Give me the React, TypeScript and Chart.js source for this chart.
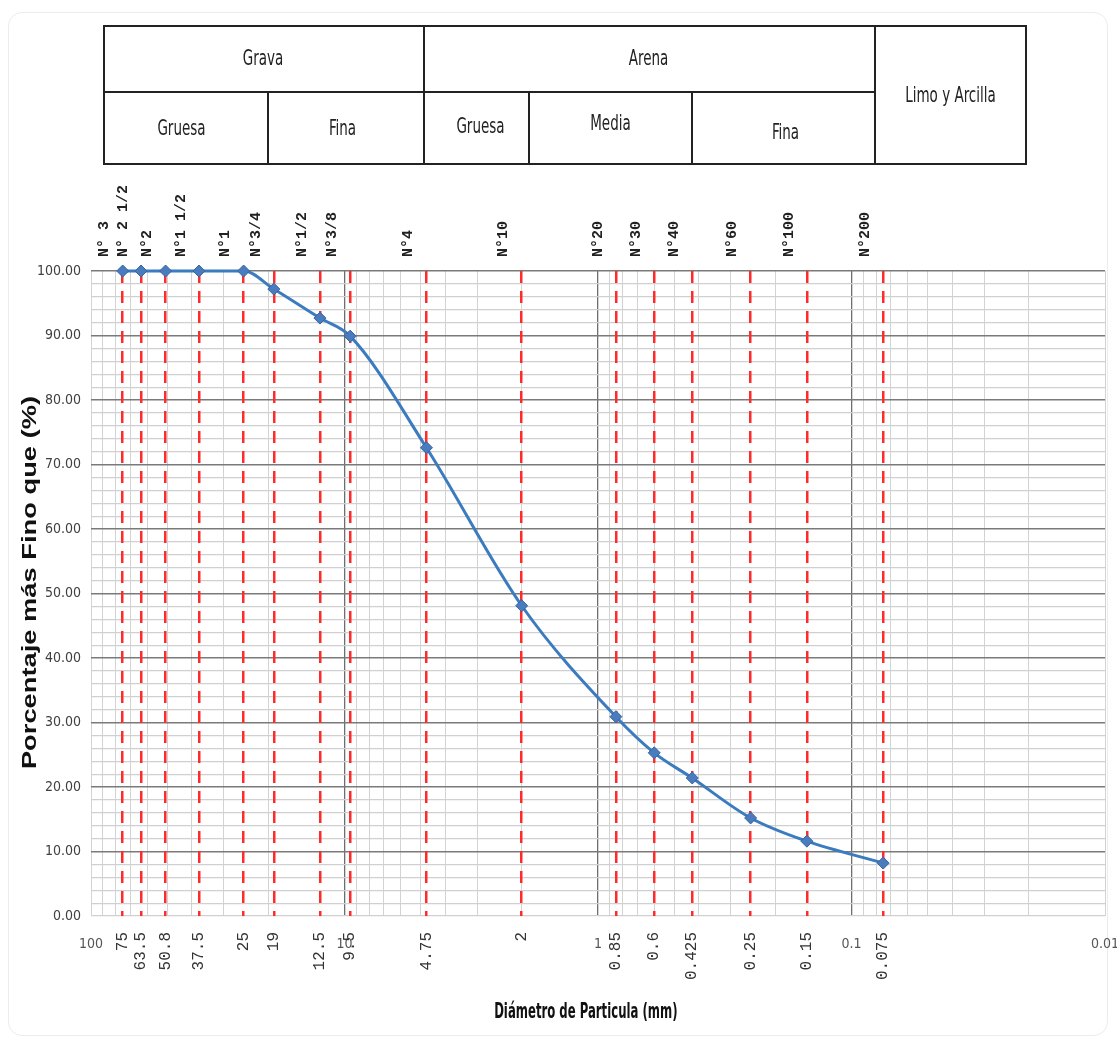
import React, { useEffect, useRef } from "react";
import { Chart, registerables } from "chart.js";

Chart.register(...registerables);

// ---- data ----
const sieveSizes = [75, 63.5, 50.8, 37.5, 25, 19, 12.5, 9.5, 4.75, 2, 0.85, 0.6, 0.425, 0.25, 0.15, 0.075];
const sieveNames = ["N° 3", "N° 2 1/2", "N°2", "N°1 1/2", "N°1", "N°3/4", "N°1/2", "N°3/8", "N°4", "N°10", "N°20", "N°30", "N°40", "N°60", "N°100", "N°200"];
const sizeLabels = ["75", "63.5", "50.8", "37.5", "25", "19", "12.5", "9.5", "4.75", "2", "0.85", "0.6", "0.425", "0.25", "0.15", "0.075"];
const percentPassing = [100, 100, 100, 100, 100, 97.2, 92.7, 89.9, 72.6, 48.1, 30.9, 25.3, 21.4, 15.2, 11.6, 8.2];
const decadeValues = [100, 10, 1, 0.1, 0.01];
const decadeLabels = ["100", "10", "1", "0.1", "0.01"];
const minorFactors = [2, 3, 4, 5, 6, 7, 8, 9];
const xTitle = "Diámetro de Particula (mm)";
const yTitle = "Porcentaje más Fino que (%)";

const NARROW = "'Liberation Sans Narrow', 'DejaVu Sans Condensed', sans-serif";
const MONO = "'Liberation Mono', 'DejaVu Sans Mono', monospace";
const SANS = "'Liberation Sans', Arial, sans-serif";

// gridline values of the log axis (decades + 2..9 multiples)
const xGridValues: number[] = [];
decadeValues.forEach((d) => {
  xGridValues.push(d);
  if (d < 100) minorFactors.forEach((k) => xGridValues.push(parseFloat((k * d).toPrecision(6))));
});

const near = (a: number, b: number) => Math.abs(a - b) / b < 1e-6;
const isInnerDecade = (v: number) => [10, 1, 0.1].some((d) => near(v, d));

const tableLines = [
  // [left, top, width, height]
  [103, 25, 924, 2],
  [103, 163, 924, 2],
  [103, 91, 772, 2],
  [103, 25, 2, 140],
  [1025, 25, 2, 140],
  [423, 25, 2, 140],
  [874, 25, 2, 140],
  [267, 91, 2, 74],
  [528, 91, 2, 74],
  [691, 91, 2, 74],
];

const tableCells = [
  { text: "Grava", l: 103, t: 25, w: 320, h: 66 },
  { text: "Arena", l: 423, t: 25, w: 451, h: 66 },
  { text: "Limo y Arcilla", l: 874, t: 25, w: 153, h: 140 },
  { text: "Gruesa", l: 96, t: 91, w: 171, h: 74 },
  { text: "Fina", l: 262, t: 91, w: 161, h: 74 },
  { text: "Gruesa", l: 433, t: 91, w: 95, h: 70 },
  { text: "Media", l: 530, t: 91, w: 161, h: 64 },
  { text: "Fina", l: 697, t: 95, w: 177, h: 74 },
];

export default function App() {
  const ref = useRef<HTMLCanvasElement>(null);

  useEffect(() => {
    const canvas = ref.current;
    if (!canvas) return;

    const labelPlugin = {
      id: "extraLabels",
      afterDraw(chart: any) {
        const xs = chart.scales.x;
        const ca = chart.chartArea;
        const ctx = chart.ctx;
        ctx.save();
        // sieve opening sizes under the axis
        ctx.font = `16px ${MONO}`;
        ctx.fillStyle = "#333";
        ctx.textAlign = "right";
        ctx.textBaseline = "middle";
        sieveSizes.forEach((v, i) => {
          const px = xs.getPixelForValue(v);
          ctx.save();
          ctx.translate(px, ca.bottom + 16);
          ctx.rotate(-Math.PI / 2);
          ctx.fillText(sizeLabels[i], 0, 0);
          ctx.restore();
        });
        // axis titles
        ctx.fillStyle = "#111";
        ctx.textAlign = "center";
        ctx.save();
        ctx.translate(ca.left + (ca.right - ca.left) * 0.488, ca.bottom + 96);
        ctx.scale(1, 1.65);
        ctx.font = `bold 13px ${NARROW}`;
        ctx.fillText(xTitle, 0, 0);
        ctx.restore();
        ctx.save();
        ctx.translate(30, (ca.top + ca.bottom) / 2 - 11);
        ctx.rotate(-Math.PI / 2);
        ctx.scale(1.3, 1);
        ctx.font = `bold 21px ${SANS}`;
        ctx.fillText(yTitle, 0, 0);
        ctx.restore();
        ctx.restore();
      },
    };

    const chart = new Chart(canvas, {
      type: "line",
      data: {
        datasets: [
          {
            data: sieveSizes.map((x, i) => ({ x, y: percentPassing[i] })),
            borderColor: "#3b7bbf",
            backgroundColor: "#4576b5",
            borderWidth: 3,
            pointStyle: "rectRot",
            pointRadius: 6,
            pointBackgroundColor: "#4a7bbd",
            pointBorderColor: "#3465a4",
            pointBorderWidth: 1,
            cubicInterpolationMode: "monotone",
            clip: false,
            xAxisID: "x",
            yAxisID: "y",
          } as any,
        ],
      },
      options: {
        animation: false,
        responsive: false,
        maintainAspectRatio: false,
        layout: { padding: { left: 0, right: 12, top: 171, bottom: 0 } },
        plugins: { legend: { display: false }, tooltip: { enabled: false } },
        scales: {
          x: {
            type: "logarithmic",
            position: "bottom",
            reverse: true,
            min: 0.01,
            max: 100,
            afterBuildTicks: (s: any) => {
              s.ticks = xGridValues.map((v) => ({ value: v }));
            },
            afterFit: (s: any) => {
              s.height = 126;
            },
            ticks: {
              autoSkip: false,
              maxRotation: 0,
              minRotation: 0,
              padding: 20,
              color: "#555",
              font: { family: NARROW, size: 14 },
              callback: (v: any) => {
                const i = decadeValues.findIndex((d) => near(Number(v), d));
                return i >= 0 ? decadeLabels[i] : "";
              },
            },
            grid: {
              drawTicks: false,
              z: -1,
              color: (c: any) => (isInnerDecade(c.tick?.value) ? "#6e6e6e" : "#d3d3d3"),
              lineWidth: (c: any) => (isInnerDecade(c.tick?.value) ? 1.3 : 1),
            },
            border: { display: false },
          } as any,
          x2: {
            type: "logarithmic",
            axis: "x",
            position: "top",
            reverse: true,
            min: 0.01,
            max: 100,
            afterBuildTicks: (s: any) => {
              s.ticks = sieveSizes.map((v) => ({ value: v }));
            },
            afterFit: (s: any) => {
              s.height = 100;
            },
            ticks: {
              autoSkip: false,
              maxRotation: 90,
              minRotation: 90,
              padding: 14,
              color: "#222",
              font: { family: MONO, size: 15, weight: "bold" },
              callback: (v: any) => {
                const i = sieveSizes.findIndex((d) => near(Number(v), d));
                return i >= 0 ? sieveNames[i] : "";
              },
            },
            grid: {
              drawTicks: false,
              z: 0,
              color: "#ff2a2a",
              lineWidth: 2.5,
            },
            border: { display: false, dash: [12, 8] },
          } as any,
          y: {
            type: "linear",
            min: 0,
            max: 100,
            afterFit: (s: any) => {
              s.width = 91;
            },
            ticks: {
              stepSize: 2,
              autoSkip: false,
              padding: 10,
              color: "#404040",
              font: { family: NARROW, size: 14 },
              callback: (v: any) => {
                const n = Math.round(Number(v));
                return n % 10 === 0 ? n.toFixed(2) : "";
              },
            },
            grid: {
              drawTicks: false,
              z: -1,
              color: (c: any) => {
                const n = Math.round(c.tick?.value ?? 0);
                return n % 10 === 0 && n !== 0 ? "#7a7a7a" : "#d0d0d0";
              },
              lineWidth: (c: any) => {
                const n = Math.round(c.tick?.value ?? 0);
                return n % 10 === 0 && n !== 0 ? 1.5 : 1.2;
              },
            },
            border: { display: false },
          } as any,
        },
      },
      plugins: [labelPlugin],
    });

    return () => chart.destroy();
  }, []);

  return (
    <div style={{ position: "absolute", left: 0, top: 0, width: 1117, height: 1042, background: "#fff", overflow: "hidden" }}>
      <div
        style={{
          position: "absolute",
          left: 8,
          top: 12,
          width: 1100,
          height: 1024,
          border: "1px solid #ececec",
          borderRadius: 14,
          boxSizing: "border-box",
        }}
      />
      <canvas ref={ref} width={1117} height={1042} style={{ position: "absolute", left: 0, top: 0, width: 1117, height: 1042 }} />
      {tableLines.map(([l, t, w, h], i) => (
        <div key={"l" + i} style={{ position: "absolute", left: l, top: t, width: w, height: h, background: "#222" }} />
      ))}
      {tableCells.map((c, i) => (
        <div
          key={"c" + i}
          style={{
            position: "absolute",
            left: c.l,
            top: c.t,
            width: c.w,
            height: c.h,
            display: "flex",
            alignItems: "center",
            justifyContent: "center",
            fontFamily: NARROW,
            fontSize: 15,
            color: "#222",
          }}
        >
          <span style={{ display: "inline-block", transform: "scaleY(1.4)" }}>{c.text}</span>
        </div>
      ))}
    </div>
  );
}
